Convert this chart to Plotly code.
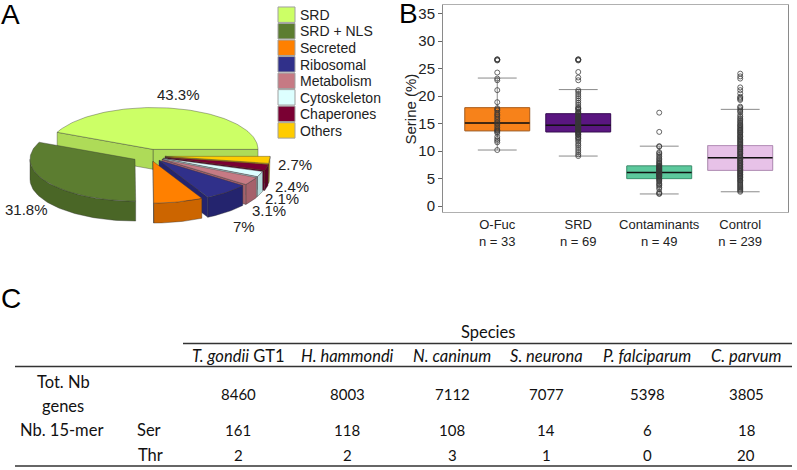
import numpy as np
import plotly.graph_objects as go

W, H = 797, 470

# ---------------- Panel A data ----------------
pie_labels = ["SRD", "SRD + NLS", "Secreted", "Ribosomal", "Metabolism",
              "Cytoskeleton", "Chaperones", "Others"]
pie_values = [43.3, 31.8, 7.6, 7, 3.1, 2.1, 2.4, 2.7]

# ---------------- Panel B data ----------------
groups = ["O-Fuc", "SRD", "Contaminants", "Control"]
group_n = [33, 69, 49, 239]
q1 = [13.7, 13.5, 5.0, 6.5]
median = [15.1, 14.7, 6.1, 8.8]
q3 = [17.9, 16.8, 7.3, 11.0]
lower_fence = [10.2, 9.1, 2.2, 2.6]
upper_fence = [23.3, 21.2, 10.9, 17.6]

pts_ofuc = [26.7, 26.7, 26.6, 26.5, 24.3, 23.2, 22.9, 21.1, 18.9, 17.8, 17.6,
            17.4, 17.0, 16.7, 16.5, 16.2, 15.9, 15.6, 15.3, 15.1, 14.9, 14.6,
            14.3, 14.0, 13.8, 13.7, 13.5, 13.3, 12.6, 12.2, 11.9, 11.6, 10.2]
pts_srd = [26.7, 26.7, 26.6, 26.5, 24.4, 23.4, 22.9, 21.1, 20.8, 20.4, 20.0,
           19.6, 19.2, 18.8, 18.4, 18.0, 17.7, 17.5, 17.2, 17.0, 16.8, 16.6,
           16.4, 16.2, 16.0, 15.8, 15.6, 15.4, 15.2, 15.0, 14.9, 14.7, 14.5,
           14.3, 14.1, 13.9, 13.7, 13.5, 13.3, 13.1, 12.9, 12.6, 12.3, 12.0,
           11.7, 11.3, 11.0, 10.6, 10.2, 9.8, 9.4, 9.1, 16.1, 15.5, 14.8, 14.2,
           13.6, 15.9, 16.9, 14.0, 12.4, 15.1, 17.8, 13.4, 14.6, 16.3, 15.7,
           13.0, 14.4]
pts_cont = [17.0, 13.5, 10.9, 10.8, 9.8, 9.6, 9.3, 9.0, 8.7, 8.5, 8.2, 8.0,
            7.8, 7.6, 7.4, 7.3, 7.1, 7.0, 6.8, 6.7, 6.5, 6.4, 6.2, 6.1, 6.0,
            5.9, 5.7, 5.6, 5.4, 5.3, 5.1, 5.0, 4.8, 4.6, 4.4, 4.1, 3.9, 3.7,
            3.4, 3.1, 2.5, 2.3, 2.2, 6.3, 5.8, 6.6, 7.2, 5.5, 6.9]
pts_ctrl = [24.1, 23.6, 23.2, 21.6, 21.1, 20.5, 19.9, 19.7, 19.5, 19.3, 18.1,
            17.9, 17.6, 17.3, 17.1, 16.6, 16.3, 16.0, 15.8, 15.5, 15.3, 15.1,
            14.8, 14.7, 14.5, 14.3, 14.1, 13.9, 13.8, 13.6, 13.4, 13.3, 13.1,
            12.9, 12.7, 12.6, 12.4, 12.2, 12.1, 11.9, 11.7, 11.6, 11.4, 11.2,
            11.1, 10.9, 10.7, 10.6, 10.4, 10.3, 10.1, 9.9, 9.8, 9.6, 9.5, 9.3,
            9.1, 9.0, 8.8, 8.7, 8.5, 8.4, 8.2, 8.1, 7.9, 7.8, 7.6, 7.5, 7.3,
            7.2, 7.0, 6.9, 6.7, 6.6, 6.4, 6.3, 6.1, 6.0, 5.8, 5.7, 5.5, 5.4,
            5.2, 5.1, 4.9, 4.7, 4.6, 4.4, 4.2, 4.0, 3.8, 3.6, 3.4, 3.2, 3.0,
            2.8, 2.6]
points = [pts_ofuc, pts_srd, pts_cont, pts_ctrl]

# ---------------- Panel C data ----------------
species = ["T. gondii", "H. hammondi", "N. caninum", "S. neurona",
           "P. falciparum", "C. parvum"]
strain = ["GT1", "", "", "", "", ""]
tot_genes = [8460, 8003, 7112, 7077, 5398, 3805]
ser_15mer = [161, 118, 108, 14, 6, 18]
thr_15mer = [2, 2, 3, 1, 0, 20]

# ---------------- styles ----------------
top_colors = ["#CCFF66", "#5C7D30", "#FF8000", "#30308A", "#C67A84",
              "#DDFFFF", "#7A0033", "#FFCC00"]
side_colors = ["#AEDB58", "#4A6626", "#CC6500", "#24246E", "#A5616B",
               "#B4DCDC", "#5C0026", "#D6A800"]
# vertex (apex) of each exploded slice, in pixel units
apex = [(153, 150), (135, 160), (153, 162), (159, 161), (162, 160),
        (163, 159), (165, 158), (165, 157)]
label_pos = [(178, 95), (26, 210), (185, 242), (244, 227), (269, 211),
             (282, 199), (292, 187), (295, 165)]
RX, RY, DEPTH = 105, 42, 20
box_fill = ["#F7821A", "#5A1680", "#5CC89C", "#E7C2E8"]
box_line = ["#B8641C", "#3E0E5C", "#3F9C76", "#B993BC"]

fig = go.Figure()

# ---------------- Panel A: 3D-style pie ----------------
def arc(vx, vy, a0, a1, dy=0.0):
    n = max(2, int(abs(a1 - a0) / 1.5) + 2)
    th = np.radians(np.linspace(a0, a1, n))
    return vx + RX * np.cos(th), vy - RY * np.sin(th) + dy


def poly(xs, ys, fill, edge):
    fig.add_trace(go.Scatter(
        x=list(xs), y=list(ys), fill="toself", mode="lines",
        fillcolor=fill, line=dict(color=edge, width=0.7),
        xaxis="x2", yaxis="y2", hoverinfo="skip", showlegend=False))


total = sum(pie_values)
angles = []
acc = 0.0
for v in pie_values:
    a0 = acc / total * 360.0
    acc += v
    a1 = acc / total * 360.0
    angles.append((a0, a1))

order = sorted(range(len(pie_values)),
               key=lambda i: -np.sin(np.radians(sum(angles[i]) / 2)))
edge_col = "rgba(50,50,50,0.55)"
for i in order:
    a0, a1 = angles[i]
    vx, vy = apex[i]
    w0, w1 = max(a0, 180.0), min(a1, 360.0)
    if w1 > w0:
        xt, yt = arc(vx, vy, w0, w1)
        xb, yb = arc(vx, vy, w0, w1, DEPTH)
        poly(np.concatenate([xt, xb[::-1], xt[:1]]),
             np.concatenate([yt, yb[::-1], yt[:1]]), side_colors[i], edge_col)
    for a, vis in ((a0, np.cos(np.radians(a0)) > 1e-6),
                   (a1, np.cos(np.radians(a1)) < -1e-6)):
        if vis:
            ex = vx + RX * np.cos(np.radians(a))
            ey = vy - RY * np.sin(np.radians(a))
            poly([vx, ex, ex, vx, vx], [vy, ey, ey + DEPTH, vy + DEPTH, vy],
                 side_colors[i], edge_col)
    xt, yt = arc(vx, vy, a0, a1)
    poly(np.concatenate([[vx], xt, [vx]]), np.concatenate([[vy], yt, [vy]]),
         top_colors[i], edge_col)

annotations = []
shapes = []


def P(x, y):
    return x / W, 1 - y / H


for i, v in enumerate(pie_values):
    annotations.append(dict(x=label_pos[i][0], y=label_pos[i][1], xref="x2",
                            yref="y2", text=f"{v:g}%", showarrow=False,
                            xanchor="center", yanchor="middle",
                            font=dict(size=15, color="#222",
                                      family="Liberation Sans")))

# legend for panel A
for i, lab in enumerate(pie_labels):
    yc = 15 + i * 16.6
    x0, y0 = P(278, yc - 8)
    x1, y1 = P(295, yc + 7.5)
    shapes.append(dict(type="rect", xref="paper", yref="paper", x0=x0, x1=x1,
                       y0=y1, y1=y0, fillcolor=top_colors[i],
                       line=dict(color="#A0A0A0", width=1)))
    tx, ty = P(298, yc)
    annotations.append(dict(x=tx, y=ty, xref="paper", yref="paper", text=lab,
                            showarrow=False, xanchor="left", yanchor="middle",
                            font=dict(size=14, color="#222",
                                      family="Liberation Sans")))

# ---------------- Panel B: box plot ----------------
for i, g in enumerate(groups):
    fig.add_trace(go.Box(
        x=[g], q1=[q1[i]], median=[q1[i]], q3=[q3[i]],
        lowerfence=[lower_fence[i]], upperfence=[upper_fence[i]],
        fillcolor="rgba(0,0,0,0)", line=dict(color="#8a8a8a", width=1),
        whiskerwidth=0.6, width=0.8, boxpoints=False, showlegend=False,
        hoverinfo="skip"))
    fig.add_trace(go.Box(
        x=[g], q1=[q1[i]], median=[median[i]], q3=[q3[i]],
        lowerfence=[q1[i]], upperfence=[q3[i]],
        fillcolor=box_fill[i], line=dict(color=box_line[i], width=1),
        whiskerwidth=0, width=0.8, boxpoints=False, showlegend=False,
        hoverinfo="skip"))
    fig.add_trace(go.Box(
        x=[g], q1=[median[i]], median=[median[i]], q3=[median[i]],
        lowerfence=[median[i]], upperfence=[median[i]],
        fillcolor="rgba(0,0,0,0)", line=dict(color="#111", width=1.5),
        whiskerwidth=0, width=0.8, boxpoints=False, showlegend=False,
        hoverinfo="skip"))
    fig.add_trace(go.Scatter(
        x=[g] * len(points[i]), y=points[i], mode="markers",
        marker=dict(symbol="circle-open", size=5,
                    color="rgba(55,55,55,0.75)", line=dict(width=1)),
        showlegend=False, hoverinfo="skip"))

annotations.append(dict(x=P(411, 0)[0], y=P(0, 110)[1], xref="paper",
                        yref="paper", text="Serine (%)", textangle=-90,
                        showarrow=False, xanchor="center", yanchor="middle",
                        font=dict(size=15, color="#222",
                                  family="Liberation Sans")))

# panel letters
for lab, (lx, ly) in (("A", (10, 15)), ("B", (408, 14)), ("C", (11, 300))):
    x, y = P(lx, ly)
    annotations.append(dict(x=x, y=y, xref="paper", yref="paper", text=lab,
                            showarrow=False, xanchor="center",
                            yanchor="middle",
                            font=dict(size=28, color="#000",
                                      family="Liberation Sans")))

# ---------------- Panel C: table ----------------
TF = dict(size=15, color="#111", family="Lato")
TFL = dict(size=16.5, color="#111", family="Lato")
col_x = [238, 347, 452, 546, 647, 746]


def txt(x, y, s, font=TF):
    px, py = P(x, y)
    annotations.append(dict(x=px, y=py, xref="paper", yref="paper", text=s,
                            showarrow=False, xanchor="center",
                            yanchor="middle", font=font))


txt(488, 333, "Species", TFL)
for i, sp in enumerate(species):
    s = f"<i>{sp}</i>" + (f" {strain[i]}" if strain[i] else "")
    txt(col_x[i], 358, s, TFL)
    txt(col_x[i], 396, str(tot_genes[i]))
    txt(col_x[i], 432, str(ser_15mer[i]))
    txt(col_x[i], 457, str(thr_15mer[i]))
txt(63, 384, "Tot. Nb", TFL)
txt(63, 408, "genes", TFL)
txt(61, 432, "Nb. 15-mer", TFL)
txt(149, 432, "Ser", TFL)
txt(150, 457, "Thr", TFL)

for (x0, x1, y) in ((183, 792, 345), (15, 792, 368), (15, 792, 468)):
    a0, b0 = P(x0, y)
    a1, _ = P(x1, y)
    shapes.append(dict(type="line", xref="paper", yref="paper", x0=a0, x1=a1,
                       y0=b0, y1=b0, line=dict(color="#333", width=1.6)))

fig.update_layout(
    width=W, height=H, margin=dict(l=0, r=0, t=0, b=0),
    paper_bgcolor="white", plot_bgcolor="white",
    font=dict(family="Liberation Sans", color="#222"),
    boxmode="overlay",
    xaxis=dict(domain=[443 / W, 788 / W], range=[-0.67, 3.59],
               type="category", categoryorder="array", categoryarray=groups,
               tickvals=groups,
               ticktext=[f"{g}<br>n = {n}" for g, n in zip(groups, group_n)],
               tickfont=dict(size=13, color="#222"), showgrid=False,
               showline=True, linecolor="#B0B0B0", mirror=True, ticks="",
               zeroline=False, anchor="y"),
    yaxis=dict(domain=[1 - 213 / H, 1 - 5 / H], range=[-1.1, 36.6],
               tickvals=[0, 5, 10, 15, 20, 25, 30, 35],
               tickfont=dict(size=15, color="#222"), ticks="outside",
               ticklen=4, tickcolor="#666", showgrid=False, showline=True,
               linecolor="#8a8a8a", mirror=True, zeroline=False, anchor="x"),
    xaxis2=dict(domain=[0, 0.5], range=[0, 0.5 * W], visible=False,
                fixedrange=True, anchor="y2"),
    yaxis2=dict(domain=[0.5, 1], range=[0.5 * H, 0], visible=False,
                fixedrange=True, anchor="x2"),
    annotations=annotations, shapes=shapes,
)

fig.write_html("out.html", config={"displayModeBar": False},
               post_script="document.body.style.margin='0px';")
